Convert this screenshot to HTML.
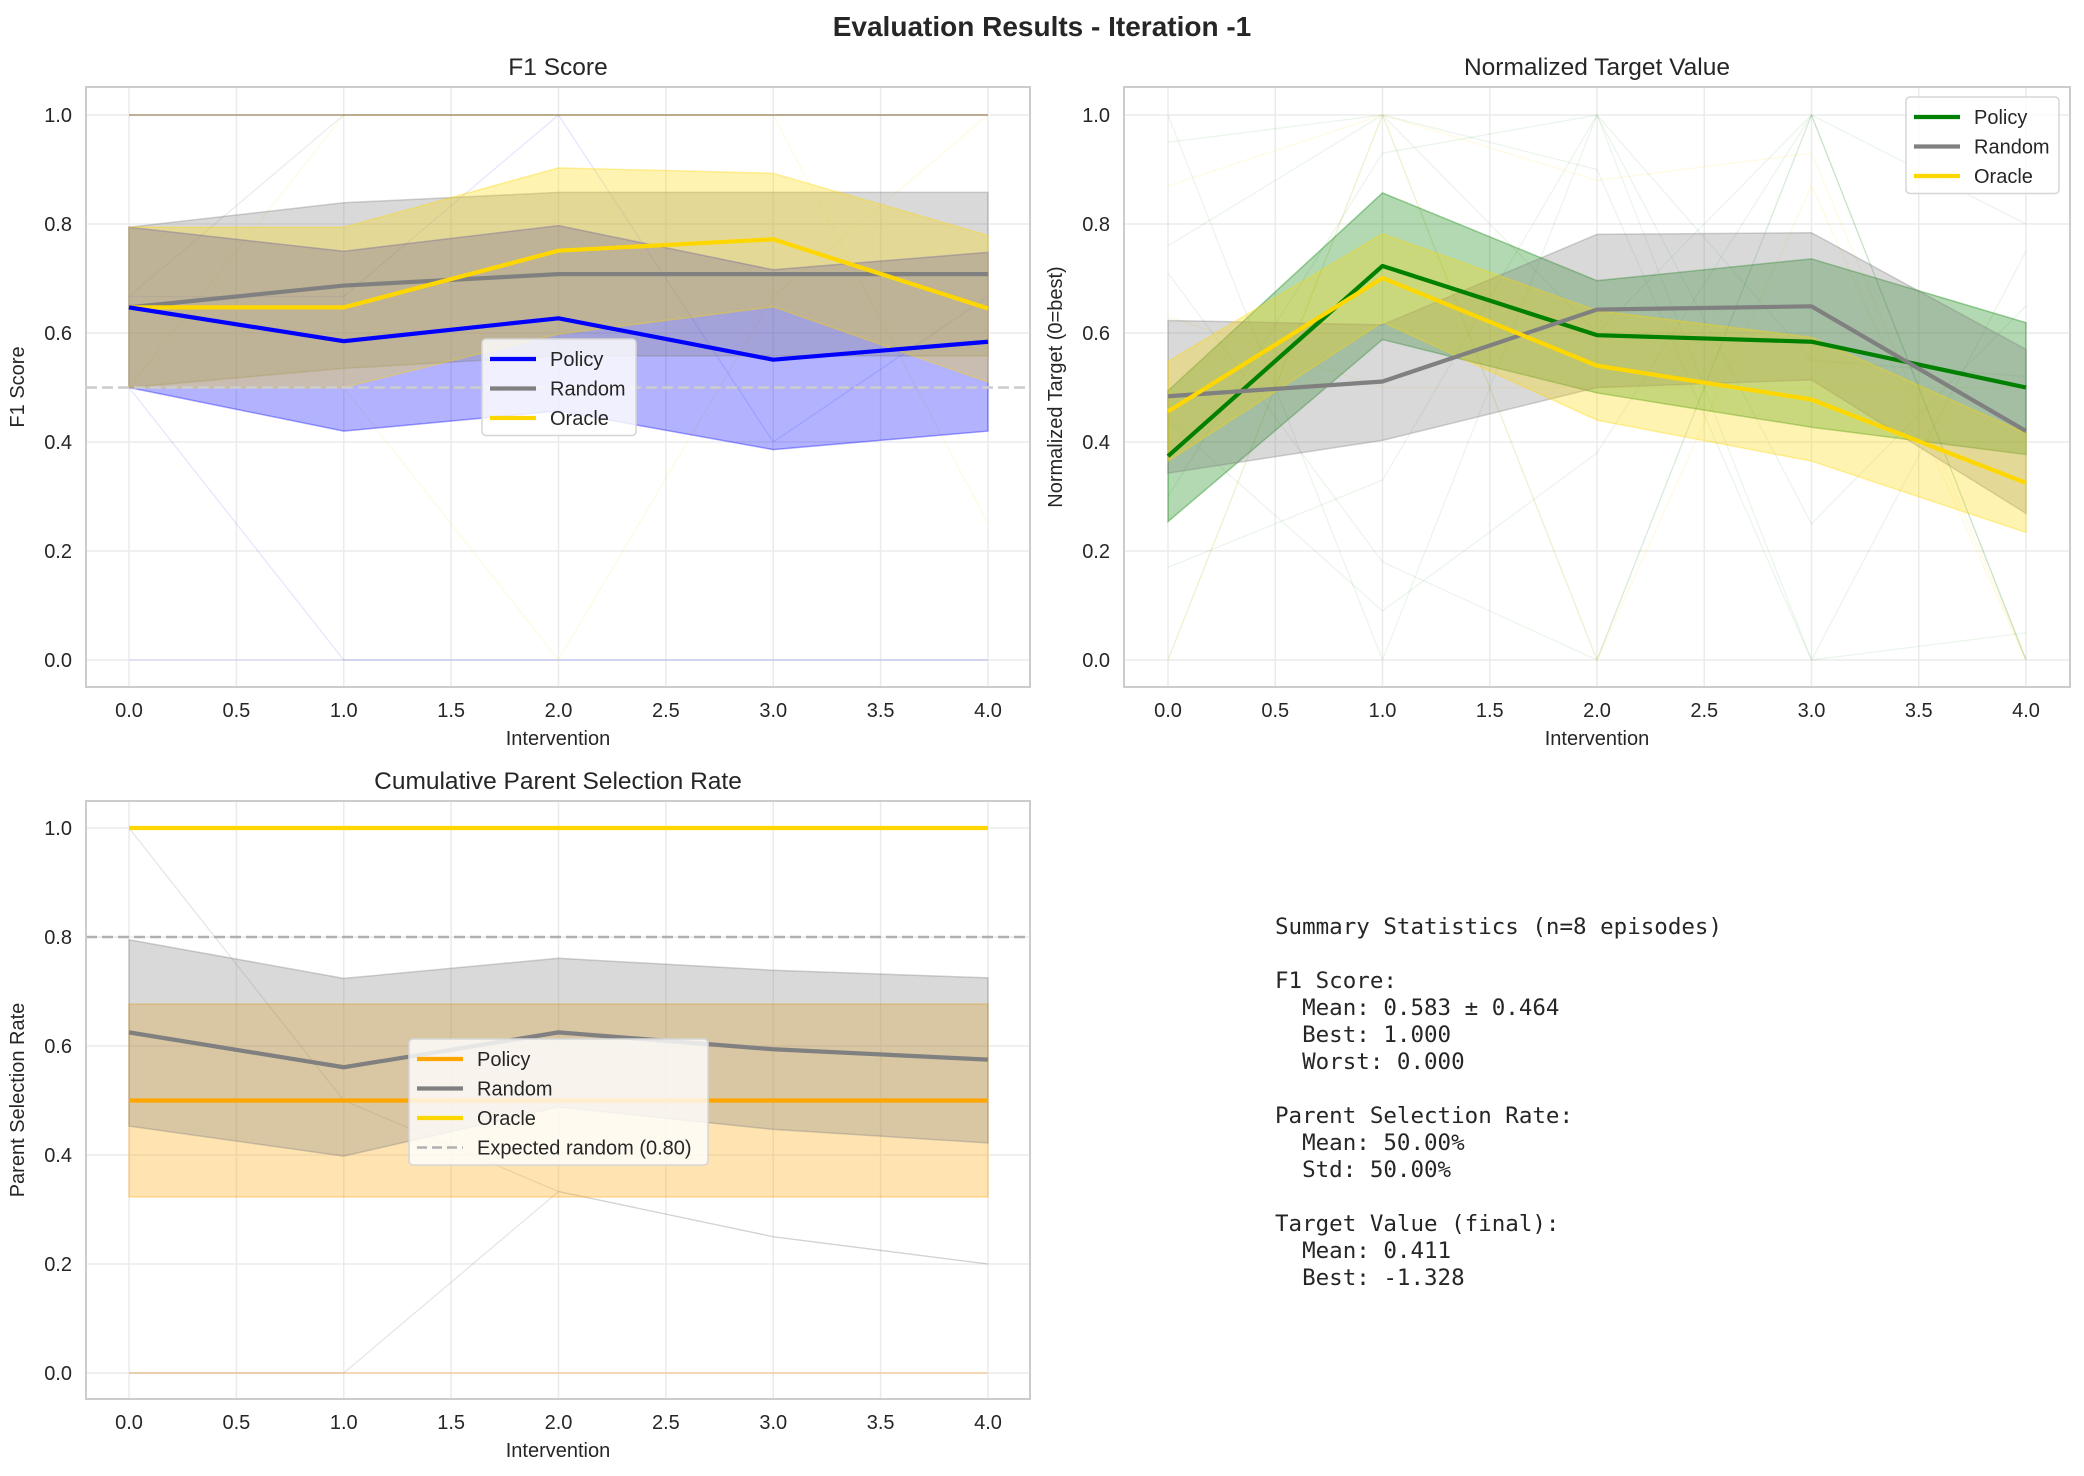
<!DOCTYPE html>
<html><head><meta charset="utf-8">
<style>
html,body{margin:0;padding:0;background:#fff;}
svg{display:block;font-family:"Liberation Sans",Arial,sans-serif;}
</style></head>
<body>
<svg id="fig" width="2084" height="1476" viewBox="0 0 2084 1476" xmlns="http://www.w3.org/2000/svg">
<rect width="2084" height="1476" fill="#fff"/>
<text x="1042" y="36" text-anchor="middle" font-size="28" font-weight="bold" fill="#262626">Evaluation Results - Iteration -1</text>
<text font-family="'DejaVu Sans Mono','Liberation Mono',monospace" font-size="22.5" fill="#262626" xml:space="preserve"><tspan x="1275" y="934">Summary Statistics (n=8 episodes)</tspan><tspan x="1275" y="988">F1 Score:</tspan><tspan x="1275" y="1015">  Mean: 0.583 ± 0.464</tspan><tspan x="1275" y="1042">  Best: 1.000</tspan><tspan x="1275" y="1069">  Worst: 0.000</tspan><tspan x="1275" y="1123">Parent Selection Rate:</tspan><tspan x="1275" y="1150">  Mean: 50.00%</tspan><tspan x="1275" y="1177">  Std: 50.00%</tspan><tspan x="1275" y="1231">Target Value (final):</tspan><tspan x="1275" y="1258">  Mean: 0.411</tspan><tspan x="1275" y="1285">  Best: -1.328</tspan></text>
</svg>
<script>
// ---- data ----
const interventions = [0, 1, 2, 3, 4];
const xTicks = [0, 0.5, 1, 1.5, 2, 2.5, 3, 3.5, 4];
const yTicks = [0, 0.2, 0.4, 0.6, 0.8, 1.0];

const f1Policy = [0.647, 0.585, 0.627, 0.551, 0.584];
const f1PolicyLo = [0.500, 0.420, 0.457, 0.386, 0.420];
const f1PolicyHi = [0.794, 0.750, 0.797, 0.716, 0.748];
const f1Random = [0.647, 0.687, 0.708, 0.708, 0.708];
const f1RandomLo = [0.500, 0.535, 0.558, 0.558, 0.558];
const f1RandomHi = [0.794, 0.839, 0.858, 0.858, 0.858];
const f1Oracle = [0.647, 0.647, 0.751, 0.772, 0.645];
const f1OracleLo = [0.500, 0.500, 0.598, 0.648, 0.510];
const f1OracleHi = [0.794, 0.794, 0.903, 0.893, 0.779];
const f1EpisodesPolicy = [[0.5, 0, 0, 0, 0], [0.667, 0.667, 1, 0.4, 0.667], [0, 0, 0, 0, 0]];
const f1EpisodesRandom = [[0.667, 1, 1, 1, 1]];
const f1EpisodesTop = [1, 1, 1, 1, 1];
const f1EpisodesOracle = [[0.5, 1, 1, 1, 0.25], [0.5, 0.5, 0, 0.667, 1]];

const tgPolicy = [0.374, 0.723, 0.596, 0.584, 0.500];
const tgPolicyLo = [0.254, 0.588, 0.490, 0.427, 0.377];
const tgPolicyHi = [0.494, 0.857, 0.696, 0.736, 0.619];
const tgRandom = [0.484, 0.511, 0.643, 0.649, 0.420];
const tgRandomLo = [0.343, 0.403, 0.500, 0.514, 0.269];
const tgRandomHi = [0.623, 0.615, 0.781, 0.784, 0.570];
const tgOracle = [0.456, 0.701, 0.540, 0.478, 0.325];
const tgOracleLo = [0.365, 0.620, 0.440, 0.365, 0.234];
const tgOracleHi = [0.548, 0.782, 0.641, 0.592, 0.416];
const tgEpisodesPolicy = [[1, 0, 1, 0, 0.75], [0, 1, 0, 1, 0], [0.95, 1, 0.9, 0, 0.05], [0.71, 0.18, 0, 1, 0.8], [0.76, 1, 0.6, 1, 0], [0.3, 0.93, 1, 0.25, 0.65], [0.17, 0.33, 1, 0.55, 0.52], [0.44, 0.09, 0.38, 1, 0]];
const tgEpisodesOracle = [[0.87, 1, 0.88, 0.93, 0], [0.63, 0.5, 0.5, 0.5, 0.5], [0, 1, 0, 0.87, 0]];

const psPolicy = [0.5, 0.5, 0.5, 0.5, 0.5];
const psPolicyLo = [0.323, 0.323, 0.323, 0.323, 0.323];
const psPolicyHi = [0.677, 0.677, 0.677, 0.677, 0.677];
const psRandom = [0.625, 0.561, 0.625, 0.594, 0.575];
const psRandomLo = [0.453, 0.398, 0.488, 0.447, 0.422];
const psRandomHi = [0.795, 0.724, 0.761, 0.739, 0.725];
const psOracle = [1, 1, 1, 1, 1];
const psEpisodes = [[1, 0.5, 0.333, 0.25, 0.2], [0, 0, 0.333, 0.25, 0.2]];
const psEpisodesPolicy = [[0, 0, 0, 0, 0]];

const NS = "http://www.w3.org/2000/svg";
const fig = document.getElementById('fig');
function mk(tag, attrs, parent) {
  const e = document.createElementNS(NS, tag);
  for (const k in attrs) e.setAttribute(k, attrs[k]);
  (parent || fig).appendChild(e);
  return e;
}

function makeAxes(cfg) {
  const g = mk('g', {});
  
  
  const xs = v => cfg.x0 + (cfg.x4 - cfg.x0) * v / 4;
  const ys = v => cfg.y0 + (cfg.y1 - cfg.y0) * v;
  xTicks.forEach(t => {
    const l = mk('line', {x1: xs(t), x2: xs(t), y1: cfg.top, y2: cfg.bottom, stroke: '#ebebeb', 'stroke-width': 1.5}, g);
    
    
    const tx = mk('text', {x: xs(t), y: cfg.bottom + 30, 'text-anchor': 'middle', 'font-size': 20, fill: '#262626'}, g);
    tx.textContent = t.toFixed(1);
    
    
  });
  yTicks.forEach(t => {
    const l = mk('line', {x1: cfg.left, x2: cfg.right, y1: ys(t), y2: ys(t), stroke: '#ebebeb', 'stroke-width': 1.5}, g);
    
    
    const tx = mk('text', {x: cfg.left - 14, y: ys(t) + 7, 'text-anchor': 'end', 'font-size': 20, fill: '#262626'}, g);
    tx.textContent = t.toFixed(1);
    
    
  });
  const clip = 'clip-' + cfg.name;
  const cp = mk('clipPath', {id: clip}, g);
  mk('rect', {x: cfg.left, y: cfg.top, width: cfg.right - cfg.left, height: cfg.bottom - cfg.top}, cp);
  const plot = mk('g', {'clip-path': 'url(#' + clip + ')'}, g);
  const pts = arr => arr.map((v, i) => xs(interventions[i]) + ',' + ys(v)).join(' ');
  const api = {
    episode(arr, color, op, name) {
      const p = mk('polyline', {points: pts(arr), fill: 'none', stroke: color, 'stroke-opacity': op, 'stroke-width': 1.3}, plot);
      
      
    },
    band(lo, hi, color, name) {
      const all = hi.map((v, i) => xs(interventions[i]) + ',' + ys(v));
      for (let i = lo.length - 1; i >= 0; i--) all.push(xs(interventions[i]) + ',' + ys(lo[i]));
      const p = mk('polygon', {points: all.join(' '), fill: color, 'fill-opacity': 0.3, stroke: color, 'stroke-opacity': 0.35, 'stroke-width': 1.5}, plot);
      
      
    },
    line(arr, color, name) {
      const p = mk('polyline', {points: pts(arr), fill: 'none', stroke: color, 'stroke-width': 4.2, 'stroke-linejoin': 'round'}, plot);
      
      
    },
    hline(v, color, w, name, dashed) {
      const p = mk('line', {x1: cfg.left, x2: cfg.right, y1: ys(v), y2: ys(v), stroke: color, 'stroke-width': w, 'stroke-dasharray': dashed ? '11,5' : 'none'}, plot);
      
      
    },
    finish(title, ylabel) {
      const fr = mk('rect', {x: cfg.left, y: cfg.top, width: cfg.right - cfg.left, height: cfg.bottom - cfg.top, fill: 'none', stroke: '#cccccc', 'stroke-width': 2}, g);
      
      
      const cx = (cfg.left + cfg.right) / 2;
      const t = mk('text', {x: cx, y: cfg.top - 12, 'text-anchor': 'middle', 'font-size': 24.5, fill: '#262626'}, g);
      t.textContent = title;
      
      
      const xl = mk('text', {x: cx, y: cfg.bottom + 58, 'text-anchor': 'middle', 'font-size': 20, fill: '#262626'}, g);
      xl.textContent = 'Intervention';
      
      
      const yc = (cfg.top + cfg.bottom) / 2;
      const yl = mk('text', {x: cfg.ylabX, y: yc, 'text-anchor': 'middle', 'font-size': 20, fill: '#262626', transform: 'rotate(-90 ' + cfg.ylabX + ' ' + yc + ')'}, g);
      yl.textContent = ylabel;
      
      
    },
    legend(x, y, w, entries) {
      const lg = mk('g', {}, g);
      
      
      mk('rect', {x: x, y: y, width: w, height: entries.length * 29.5 + 8, rx: 4, fill: '#fff', 'fill-opacity': 0.8, stroke: '#d6d6d6', 'stroke-width': 1.5}, lg);
      entries.forEach((e, i) => {
        const ey = y + 20 + i * 29.5;
        const ent = mk('g', {}, lg);
        
        
        mk('line', {x1: x + 8, x2: x + 54, y1: ey, y2: ey, stroke: e.c, 'stroke-width': e.dash ? 2.5 : 4.2, 'stroke-dasharray': e.dash ? '10,5' : 'none'}, ent);
        const tt = mk('text', {x: x + 68, y: ey + 7, 'font-size': 20, fill: '#262626'}, ent);
        tt.textContent = e.t;
      });
    }
  };
  return api;
}

// F1 chart
const a1 = makeAxes({name: 'f1-score-chart', left: 86, right: 1030, top: 87, bottom: 687, x0: 129, x4: 988, y0: 660, y1: 115, ylabX: 24});
f1EpisodesPolicy.forEach(e => a1.episode(e, '#0000ff', 0.1, 'policy-episode-line'));
f1EpisodesRandom.forEach(e => a1.episode(e, '#808080', 0.15, 'random-episode-line'));
f1EpisodesOracle.forEach(e => a1.episode(e, '#ffd700', 0.12, 'oracle-episode-line'));
a1.episode(f1EpisodesTop, '#8a6d3b', 0.8, 'top-episode-overlap');
a1.band(f1PolicyLo, f1PolicyHi, '#0000ff', 'policy-band');
a1.band(f1RandomLo, f1RandomHi, '#808080', 'random-band');
a1.band(f1OracleLo, f1OracleHi, '#ffd700', 'oracle-band');
a1.hline(0.5, '#cccccc', 2.5, 'chance-line', true);
a1.line(f1Random, '#808080', 'random-mean-line');
a1.line(f1Oracle, '#ffd700', 'oracle-mean-line');
a1.line(f1Policy, '#0000ff', 'policy-mean-line');
a1.finish('F1 Score', 'F1 Score');
a1.legend(482, 339, 154, [{t: 'Policy', c: '#0000ff'}, {t: 'Random', c: '#808080'}, {t: 'Oracle', c: '#ffd700'}]);

// Target chart
const a2 = makeAxes({name: 'normalized-target-chart', left: 1124, right: 2070, top: 87, bottom: 687, x0: 1168, x4: 2026, y0: 660, y1: 115, ylabX: 1062});
tgEpisodesPolicy.forEach(e => a2.episode(e, '#008000', 0.08, 'policy-episode-line'));
tgEpisodesOracle.forEach(e => a2.episode(e, '#ffd700', 0.12, 'oracle-episode-line'));
a2.band(tgPolicyLo, tgPolicyHi, '#008000', 'policy-band');
a2.band(tgRandomLo, tgRandomHi, '#808080', 'random-band');
a2.band(tgOracleLo, tgOracleHi, '#ffd700', 'oracle-band');
a2.line(tgPolicy, '#008000', 'policy-mean-line');
a2.line(tgRandom, '#808080', 'random-mean-line');
a2.line(tgOracle, '#ffd700', 'oracle-mean-line');
a2.finish('Normalized Target Value', 'Normalized Target (0=best)');
a2.legend(1906, 97, 153, [{t: 'Policy', c: '#008000'}, {t: 'Random', c: '#808080'}, {t: 'Oracle', c: '#ffd700'}]);

// Parent selection chart
const a3 = makeAxes({name: 'parent-selection-chart', left: 86, right: 1030, top: 801, bottom: 1399, x0: 129, x4: 988, y0: 1373, y1: 828, ylabX: 24});
psEpisodes.forEach(e => a3.episode(e, '#808080', 0.2, 'random-episode-line'));
psEpisodesPolicy.forEach(e => a3.episode(e, '#ff8c00', 0.4, 'policy-episode-line'));
a3.band(psPolicyLo, psPolicyHi, '#ffa500', 'policy-band');
a3.band(psRandomLo, psRandomHi, '#808080', 'random-band');
a3.hline(0.8, '#b0b0b0', 2.5, 'expected-random-line', true);
a3.line(psRandom, '#808080', 'random-mean-line');
a3.line(psPolicy, '#ffa500', 'policy-mean-line');
a3.line(psOracle, '#ffd700', 'oracle-mean-line');
a3.finish('Cumulative Parent Selection Rate', 'Parent Selection Rate');
a3.legend(409, 1039, 299, [{t: 'Policy', c: '#ffa500'}, {t: 'Random', c: '#808080'}, {t: 'Oracle', c: '#ffd700'}, {t: 'Expected random (0.80)', c: '#b0b0b0', dash: true}]);
</script>
</body></html>
